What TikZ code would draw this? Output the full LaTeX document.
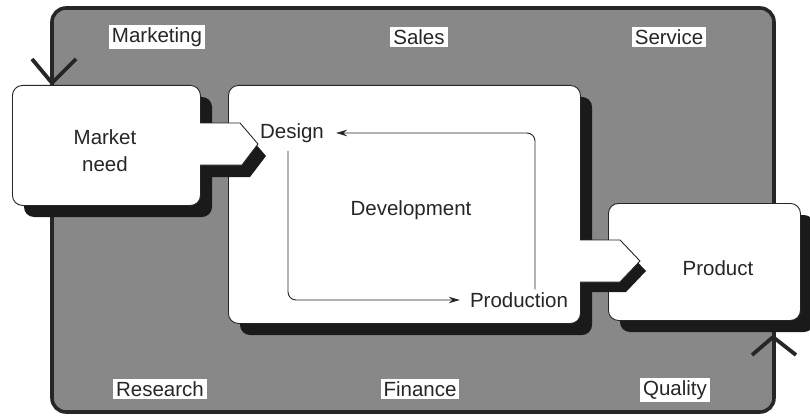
\documentclass[tikz,border=0pt]{standalone}
\usepackage{fontspec}
\setmainfont{Liberation Sans}
\usetikzlibrary{arrows.meta}
\definecolor{bggrey}{RGB}{136,136,136}
\definecolor{shadowc}{RGB}{26,26,26}
\definecolor{edge}{RGB}{38,38,38}
\begin{document}
\begin{tikzpicture}[x=1pt,y=-1pt,
  txt/.style={font=\fontsize{20.5}{25}\selectfont, text=edge, inner sep=3pt},
  lab/.style={txt, fill=white, inner xsep=3pt, inner ysep=2pt},
  box/.style={draw=edge, line width=0.9pt, fill=white, rounded corners=10pt, anchor=north west, inner sep=0pt},
  shadowfill/.style={fill=shadowc, rounded corners=10pt},
  flow/.style={draw=edge, line width=0.9pt, rounded corners=8pt, -{Stealth[length=11pt,width=6.5pt]}},
  varrow/.style={draw=edge, line width=3.8pt, line join=miter},
  bigarrow/.style={draw=edge, line width=0.9pt, line join=miter},
]
\useasboundingbox (0,0) rectangle (810,417);
% outer area
\draw[fill=bggrey, draw=edge, line width=3.6pt, rounded corners=14pt] (52,8) rectangle (774,412);
% box shadows
\fill[shadowfill] (24,97) rectangle (212,217);
\fill[shadowfill] (240,97) rectangle (592,335);
\fill[shadowfill] (620,215) rectangle (814,332);
% boxes
\node[box, minimum width=188pt, minimum height=120pt] (market) at (12,85) {};
\node[box, minimum width=352pt, minimum height=238pt] (dev) at (228,85) {};
\node[box, minimum width=192pt, minimum height=117pt] (product) at (608,203) {};
% big arrow shadows
\fill[shadowc] (208,135) -- (248,135) -- (266,156) -- (250,177) -- (208,177) -- cycle;
\fill[shadowc] (586,250) -- (626,250) -- (646,271) -- (626,292) -- (586,292) -- cycle;
% big arrows
\fill[white] (199,123) -- (240,123) -- (258,144) -- (242,165) -- (199,165) -- cycle;
\draw[bigarrow] (200,123) -- (240,123) -- (258,144) -- (242,165) -- (200,165);
\fill[white] (579,240) -- (620,240) -- (640,261) -- (620,282) -- (579,282) -- cycle;
\draw[bigarrow] (580,240) -- (620,240) -- (640,261) -- (620,282) -- (580,282);
% area labels
\node[lab] (marketing) at (157,37) {Marketing};
\node[lab] (sales) at (419,37) {Sales};
\node[lab] (service) at (669,37) {Service};
\node[lab] (research) at (160,389) {Research};
\node[lab] (finance) at (420,389) {Finance};
\node[lab] (quality) at (675,390) {Quality};
% box texts
\node[txt, align=center, font=\fontsize{20.5}{27}\selectfont] (mneed) at (105,151) {Market\\need};
\node[txt] (design) at (292,133) {Design};
\node[txt] (devtext) at (411,210) {Development};
\node[txt] (production) at (519,300) {Production};
\node[txt] (producttext) at (718,268) {Product};
% flow arrows
\draw[flow, shorten <=5pt, shorten >=7pt] ([xshift=-4pt]design.south) |- (production.west);
\draw[flow, shorten >=9pt] ([xshift=16pt]production.north) |- (design.east);
% entry / exit arrows
\coordinate (inA) at (32,59);
\coordinate (inTip) at (52,83);
\coordinate (inB) at (76,59);
\draw[varrow] (inA) -- (inTip) -- (inB);
\coordinate (outA) at (752,355);
\coordinate (outTip) at (773,337);
\coordinate (outB) at (796,355);
\draw[varrow] (outA) -- (outTip) -- (outB);
\end{tikzpicture}
\end{document}
